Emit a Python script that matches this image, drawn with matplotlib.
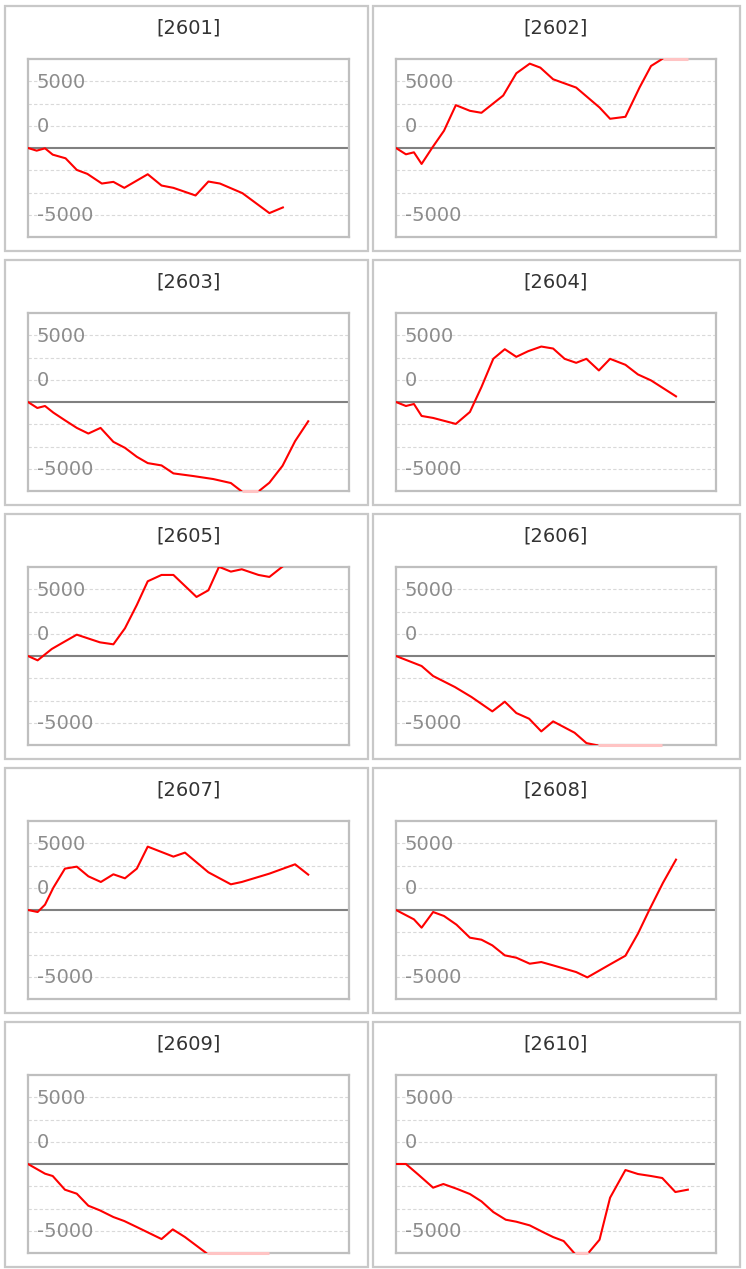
import numpy as np
import matplotlib
matplotlib.use("Agg")
import matplotlib.pyplot as plt
from matplotlib.patches import Rectangle

# ---------------- data ----------------
titles = ["[2601]", "[2602]", "[2603]", "[2604]", "[2605]",
          "[2606]", "[2607]", "[2608]", "[2609]", "[2610]"]

x_2601 = [0, 2.7, 5.3, 7.7, 11.7, 15.2, 18.5, 23.0, 26.6, 30.0, 37.3, 41.6, 45.3, 52.2, 56.2, 59.8, 66.8, 75.2, 79.4]
y_2601 = [0, -199, -25, -498, -771, -1642, -1940, -2662, -2537, -2985, -1965, -2811, -2985, -3557, -2512, -2662, -3383, -4876, -4453]

x_2602 = [0, 3.1, 5.6, 8.0, 11.4, 15.0, 18.7, 23.1, 26.7, 33.5, 37.6, 41.8, 45.1, 49.1, 56.3, 63.6, 66.9, 71.7, 76.1, 79.7, 83.4, 87.3, 91.2]
y_2602 = [0, -473, -323, -1194, 50, 1294, 3209, 2786, 2637, 3930, 5597, 6318, 6020, 5149, 4527, 3035, 2189, 2338, 4527, 6144, 6700, 7200, 7100]

x_2603 = [0, 2.9, 5.3, 7.9, 11.5, 15.2, 18.8, 22.6, 26.6, 30.2, 33.9, 37.3, 41.6, 45.3, 51.5, 57.7, 63.2, 66.6, 69.2, 71.8, 75.2, 79.3, 83.2, 87.3]
y_2603 = [0, -448, -299, -796, -1368, -1940, -2363, -1940, -2985, -3433, -4104, -4577, -4751, -5348, -5547, -5771, -6070, -6700, -6950, -6700, -6045, -4776, -2935, -1443]

x_2604 = [0, 3.1, 5.6, 8.0, 11.6, 18.7, 23.1, 26.7, 30.4, 34.0, 37.6, 41.3, 45.4, 49.1, 52.7, 56.3, 59.5, 63.4, 66.9, 71.7, 75.6, 79.7, 87.5]
y_2604 = [0, -299, -149, -1045, -1194, -1642, -746, 1119, 3234, 3955, 3383, 3806, 4154, 4005, 3234, 2935, 3234, 2363, 3234, 2786, 2065, 1617, 423]

x_2605 = [0, 3.0, 7.4, 11.0, 15.2, 22.4, 26.6, 30.2, 33.9, 37.3, 41.6, 45.3, 52.5, 56.2, 59.5, 63.2, 66.6, 71.8, 75.2, 79.3]
y_2605 = [0, -325, 525, 1024, 1599, 1024, 875, 2074, 3823, 5597, 6072, 6072, 4423, 4923, 6680, 6322, 6497, 6072, 5922, 6700]

x_2606 = [0, 8.0, 11.6, 18.4, 23.6, 30.1, 34.0, 37.6, 41.6, 45.4, 49.1, 55.8, 59.5, 63.1, 66.7, 71.9, 77.1, 83.2]
y_2606 = [0, -750, -1499, -2324, -3073, -4148, -3423, -4273, -4698, -5647, -4898, -5747, -6522, -6700, -7100, -7300, -7200, -7400]

x_2607 = [0, 3.0, 5.3, 7.9, 11.5, 15.2, 18.8, 22.7, 26.6, 30.2, 33.9, 37.3, 45.3, 48.9, 56.2, 63.2, 66.6, 75.2, 83.2, 87.3]
y_2607 = [0, -150, 400, 1674, 3098, 3248, 2524, 2099, 2674, 2374, 3098, 4748, 3998, 4298, 2824, 1924, 2099, 2724, 3423, 2649]

x_2608 = [0, 5.6, 8.0, 11.6, 15.0, 18.9, 23.1, 26.7, 30.1, 34.0, 37.6, 41.8, 45.4, 49.1, 52.7, 56.3, 59.8, 66.9, 71.7, 75.6, 79.2, 83.4, 87.5]
y_2608 = [0, -700, -1324, -150, -450, -1099, -2074, -2224, -2649, -3398, -3573, -4023, -3898, -4148, -4398, -4648, -5048, -4073, -3423, -1774, 25, 2024, 3773]

x_2609 = [0, 5.3, 7.7, 11.5, 15.2, 18.8, 22.4, 26.6, 30.0, 33.9, 41.6, 45.1, 48.9, 55.7, 59.8, 65.0, 70.2, 75.2]
y_2609 = [0, -725, -900, -1924, -2224, -3124, -3473, -3973, -4273, -4723, -5622, -4898, -5472, -6700, -7100, -7300, -7200, -7500]

x_2610 = [0, 3.1, 7.0, 11.6, 14.8, 18.9, 23.1, 26.7, 30.4, 34.3, 37.6, 41.8, 45.9, 49.1, 52.4, 55.8, 57.9, 60.0, 63.6, 66.9, 71.7, 75.6, 79.7, 83.2, 87.3, 91.2]
y_2610 = [0, 0, -800, -1774, -1499, -1849, -2249, -2799, -3598, -4173, -4323, -4598, -5098, -5472, -5772, -6700, -7000, -6700, -5672, -2524, -450, -750, -900, -1050, -2099, -1924]

series_x = [x_2601, x_2602, x_2603, x_2604, x_2605, x_2606, x_2607, x_2608, x_2609, x_2610]
series_y = [y_2601, y_2602, y_2603, y_2604, y_2605, y_2606, y_2607, y_2608, y_2609, y_2610]

grid_vals = [-5000, -10000 / 3, -5000 / 3, 5000 / 3, 10000 / 3, 5000]
label_vals = [5000, 5000 / 3, -5000]
label_txt = ["5000", "0", "-5000"]
y_lim = 20000 / 3

# ---------------- layout ----------------
W, H = 746, 1269
fig = plt.figure(figsize=(W / 100, H / 100), dpi=100)
fig.patch.set_facecolor("white")

col_box = [(5, 368), (373, 740)]
col_plot = [(28, 349), (396, 716)]
row_pitch = 254
box_top0, box_h = 6, 245
plot_top0, plot_h = 59, 178

def fx(px):
    return px / W

def fy(py):
    return 1 - py / H

for i in range(10):
    r, c = divmod(i, 2)
    # outer panel box
    bx0, bx1 = col_box[c]
    by0 = box_top0 + r * row_pitch
    fig.patches.append(Rectangle((fx(bx0), fy(by0 + box_h)), fx(bx1 - bx0), box_h / H,
                                 transform=fig.transFigure, fill=False,
                                 edgecolor="#c8c8c8", linewidth=1.6, zorder=0))
    px0, px1 = col_plot[c]
    py0 = plot_top0 + r * row_pitch
    ax = fig.add_axes([fx(px0), fy(py0 + plot_h), fx(px1 - px0), plot_h / H])
    ax.set_xlim(0, 100)
    ax.set_ylim(-y_lim, y_lim)
    for s in ax.spines.values():
        s.set_color("#bfbfbf")
        s.set_linewidth(1.6)
    ax.set_xticks([])
    ax.set_yticks([])
    for g in grid_vals:
        ax.axhline(g, color="#d9d9d9", linewidth=0.8, linestyle=(0, (3, 2)), zorder=1)
    ax.axhline(0, color="#808080", linewidth=1.5, zorder=2)
    for v, t in zip(label_vals, label_txt):
        ax.text(2.8, v - 90, t, transform=ax.transData, ha="left", va="center",
                fontsize=14, color="#8c8c8c", zorder=3,
                fontfamily="DejaVu Sans")
    xs = np.array(series_x[i], dtype=float)
    ys = np.array(series_y[i], dtype=float)
    out = np.abs(ys) > y_lim
    if out.any():
        pink = np.where(out, np.clip(ys, -y_lim, y_lim), np.nan)
        ax.plot(xs, pink, color="#ffc4c4", linewidth=2.2, zorder=5, clip_on=False,
                solid_capstyle="butt")
    ax.plot(xs, ys, color="#ff0000", linewidth=1.5, zorder=4)
    fig.text(fx((px0 + px1) / 2), fy(py0 - 31), titles[i], ha="center", va="center",
             fontsize=14, color="#333333", fontfamily="DejaVu Sans")

fig.savefig("out.png", dpi=100, facecolor="white")
